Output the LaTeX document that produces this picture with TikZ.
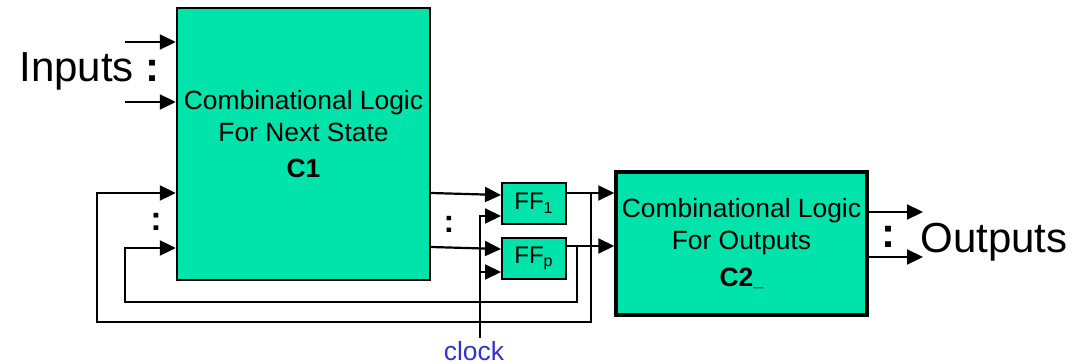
\documentclass[tikz,border=0pt]{standalone}
\usepackage{fontspec}
\setmainfont{Liberation Sans}
\usetikzlibrary{arrows.meta, positioning}
\definecolor{LogicGreen}{RGB}{0,227,170}
\definecolor{ClockBlue}{RGB}{51,51,204}
\tikzset{
  >={Triangle[length=8pt,width=7.5pt]},
  % blocchi di logica combinatoria e flip-flop
  logic/.style={draw,line width=1.2pt,fill=LogicGreen,inner sep=0pt},
  ff/.style={logic,line width=1pt,minimum width=32pt,minimum height=20.5pt,font=\fontsize{12}{14}\selectfont},
  % collegamenti
  wire/.style={line width=1.1pt,black},
  dots/.style={inner sep=0pt,anchor=base}
}

\begin{document}
\begin{tikzpicture}[x=0.5pt,y=-0.5pt]
  \useasboundingbox (0,0) rectangle (1073,364);
  % blocchi
  \node[logic,minimum width=126.5pt,minimum height=136pt] (C1) at (303.5,144) {};
  \node[align=center,font=\fontsize{13.2}{16}\selectfont] (C1txt) at (303.5,134.5) {Combinational Logic\\For Next State\\[2pt]\textbf{C1}};
  \node[logic,line width=1.75pt,minimum width=125.5pt,minimum height=71.5pt,align=center,font=\fontsize{13.2}{16}\selectfont] (C2) at (741.5,243.5) {Combinational Logic\\For Outputs\\[2.5pt]\textbf{C2{\fontsize{9}{9}\selectfont\_}}};
  \node[ff] (FF1) at (534,203.5) {FF\textsubscript{1}};
  \node[ff] (FFp) at (534,258.5) {FF\textsubscript{p}};
  % testi
  \node[anchor=base west,inner sep=0pt,font=\fontsize{21}{24}\selectfont] (inputs) at (19,82) {Inputs \textbf{:}};
  \node[anchor=base west,inner sep=0pt,font=\fontsize{21}{24}\selectfont] (outputs) at (920,252) {Outputs};
  \node[dots,font=\fontsize{17}{19}\selectfont\bfseries] (fbdots) at (156,230) {:};
  \node[dots,font=\fontsize{16}{18}\selectfont\bfseries] (ffdots) at (449,232) {:};
  \node[dots,font=\fontsize{21}{23}\selectfont\bfseries] (outdots) at (888,247) {:};
  \node[anchor=base,inner sep=0pt,text=ClockBlue,font=\fontsize{13.2}{15}\selectfont] (clock) at (474,360) {clock};
  % ingressi
  \coordinate (in1) at (125,42);
  \coordinate (in2) at (125,102);
  \draw[wire,->] (in1) -- (in1 -| C1.west);
  \draw[wire,->] (in2) -- (in2 -| C1.west);
  % C1 -> flip-flop -> C2
  \draw[wire,->] (C1.east |- 0,193) -- (FF1.west |- 0,195);
  \draw[wire,->] (C1.east |- 0,247) -- (FFp.west |- 0,249);
  \draw[wire,->] (FF1.east |- 0,193) -- (C2.west |- 0,193);
  \draw[wire,->] (FFp.east |- 0,246) -- (C2.west |- 0,246);
  % retroazione dello stato
  \coordinate (tap1) at (591,193);
  \coordinate (tap2) at (577,246);
  \draw[wire,->] (tap1) |- (97,322) |- (C1.west |- 0,193);
  \draw[wire,->] (tap2) |- (125,302) |- (C1.west |- 0,248);
  % clock
  \coordinate (ckin) at (480,338);
  \coordinate (cktap) at (480,272);
  \draw[wire,->] (ckin) |- (FF1.west |- 0,216);
  \draw[wire,->] (cktap) -- (FFp.west |- cktap);
  % uscite
  \coordinate (out1) at (923,212);
  \coordinate (out2) at (923,257);
  \draw[wire,->] (C2.east |- out1) -- (out1);
  \draw[wire,->] (C2.east |- out2) -- (out2);
\end{tikzpicture}
\end{document}
